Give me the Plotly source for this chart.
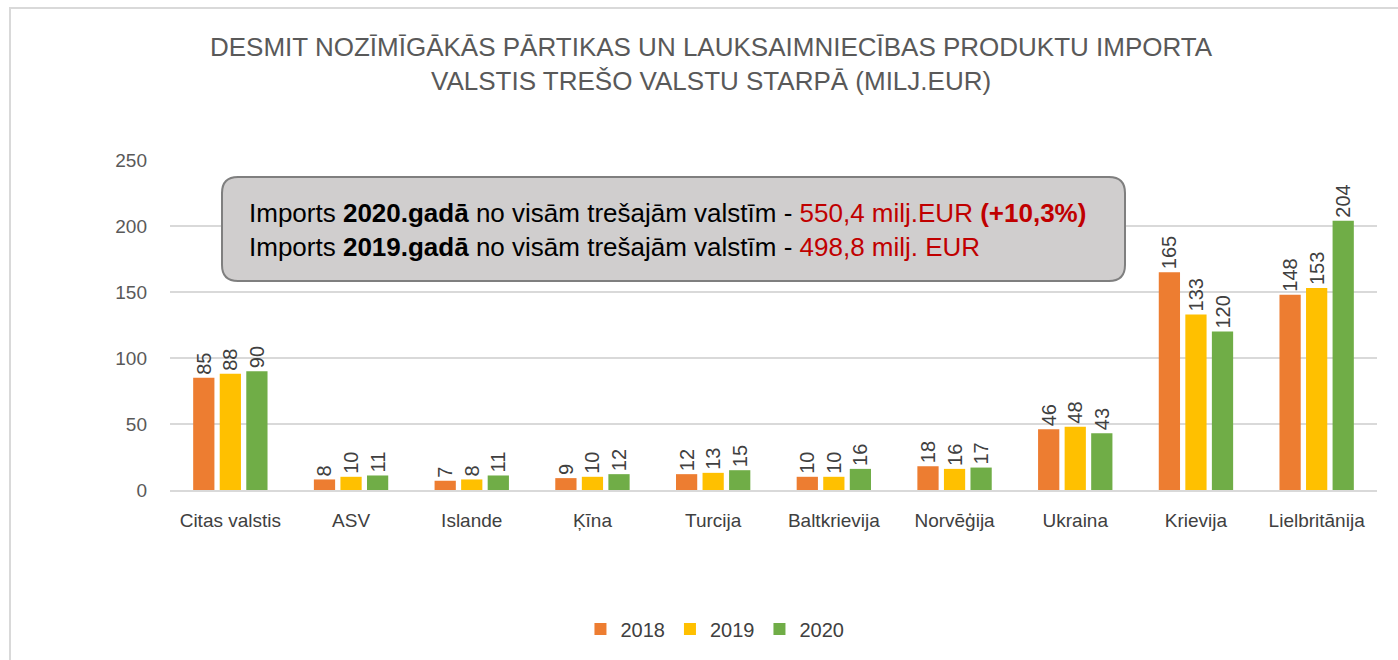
import plotly.graph_objects as go

categories = ["Citas valstis", "ASV", "Islande", "Ķīna", "Turcija", "Baltkrievija",
              "Norvēģija", "Ukraina", "Krievija", "Lielbritānija"]
years = ["2018", "2019", "2020"]
v2018 = [85, 8, 7, 9, 12, 10, 18, 46, 165, 148]
v2019 = [88, 10, 8, 10, 13, 10, 16, 48, 133, 153]
v2020 = [90, 11, 11, 12, 15, 16, 17, 43, 120, 204]
colors = ["#ED7D31", "#FFC000", "#70AD47"]

FONT = "Liberation Sans Narrow, Arial Narrow, Liberation Sans, Arial"
W, H = 1398, 660
L, R, T, B = 170, 21, 160, 170
PW, PH = W - L - R, H - T - B

fig = go.Figure()
for name, vals, col in zip(years, [v2018, v2019, v2020], colors):
    fig.add_trace(go.Bar(
        name=name, x=categories, y=vals, marker=dict(color=col, line=dict(width=0)),
        texttemplate="%{y:.0f}", textposition="outside", textangle=-90,
        constraintext="none", cliponaxis=False,
        textfont=dict(family=FONT, size=20, color="#404040"),
    ))

def px2paper(x, y):
    return (x - L) / PW, (H - B - y) / PH

# rounded box
x0, y0, x1, y1, r = 222, 177, 1125, 281, 16
def P(x, y):
    a, b = px2paper(x, y)
    return f"{a:.5f},{b:.5f}"
path = (f"M {P(x0+r,y0)} L {P(x1-r,y0)} Q {P(x1,y0)} {P(x1,y0+r)} "
        f"L {P(x1,y1-r)} Q {P(x1,y1)} {P(x1-r,y1)} L {P(x0+r,y1)} "
        f"Q {P(x0,y1)} {P(x0,y1-r)} L {P(x0,y0+r)} Q {P(x0,y0)} {P(x0+r,y0)} Z")

shapes = [
    dict(type="path", xref="paper", yref="paper", path=path,
         fillcolor="#D0CECE", line=dict(color="#7F7F7F", width=2), layer="above"),
]
bx0, by0 = px2paper(10, 8)
bx1, by1 = px2paper(1410, 680)
shapes.append(dict(type="rect", xref="paper", yref="paper", x0=bx0, y0=by0, x1=bx1, y1=by1,
                   line=dict(color="#D9D9D9", width=2), fillcolor="rgba(0,0,0,0)", layer="below"))

ax, ay = px2paper(247, 230)
box_text = ("Imports <b>2020.gadā</b> no visām trešajām valstīm - "
            "<span style='color:#C00000'>550,4 milj.EUR <b>(+10,3%)</b></span><br>"
            "Imports <b>2019.gadā</b> no visām trešajām valstīm - "
            "<span style='color:#C00000'>498,8 milj. EUR</span>")

tx, ty = px2paper(711, 64)
title_text = ("DESMIT NOZĪMĪGĀKĀS PĀRTIKAS UN LAUKSAIMNIECĪBAS PRODUKTU IMPORTA<br>"
              "VALSTIS TREŠO VALSTU STARPĀ (MILJ.EUR)")

fig.update_layout(
    width=W, height=H,
    margin=dict(l=L, r=R, t=T, b=B),
    paper_bgcolor="white", plot_bgcolor="white",
    barmode="group", bargap=0.34, bargroupgap=0.2,
    font=dict(family=FONT, size=19, color="#595959"),
    yaxis=dict(range=[0, 250], dtick=50, showgrid=True, gridcolor="#D9D9D9", gridwidth=1.5,
               zeroline=False, showline=False, ticks="", ticklabelstandoff=22,
               tickfont=dict(family=FONT, size=19, color="#595959")),
    xaxis=dict(showline=True, linecolor="#D9D9D9", linewidth=1.5, ticks="", ticklabelstandoff=12,
               tickfont=dict(family=FONT, size=19, color="#404040")),
    legend=dict(orientation="h", x=0.4515, xanchor="center", y=(490 - 629) / PH, yanchor="middle",
                font=dict(family=FONT, size=20, color="#404040"), traceorder="normal"),
    shapes=shapes,
    annotations=[
        dict(xref="paper", yref="paper", x=ax, y=ay, xanchor="left", yanchor="middle",
             text=box_text, showarrow=False, align="left",
             font=dict(family=FONT, size=26, color="#000000")),
        dict(xref="paper", yref="paper", x=tx, y=ty, xanchor="center", yanchor="middle",
             text=title_text, showarrow=False, align="center",
             font=dict(family=FONT, size=26, color="#595959")),
    ],
)

fig.write_html("out.html", config={"displayModeBar": False},
               post_script="document.body.style.margin='0';")
